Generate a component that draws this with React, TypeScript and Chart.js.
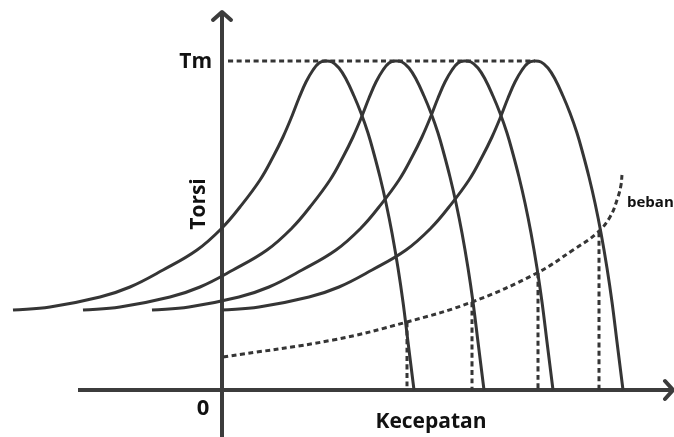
import { useEffect, useRef } from "react";
import { Chart, registerables } from "chart.js";

Chart.register(...registerables);

// ---- data (speed / torque in arbitrary drawing units, origin at 0,0) ----
const TM = 329;

const MOTOR_1_SPEED = [-209, -172, -122, -92, -59, -25, 0, 18, 38, 51, 61, 70, 77, 84, 91, 97, 103, 110, 117, 124, 132, 139, 146, 152, 158, 164, 170, 176, 181, 186, 189, 192];
const MOTOR_1_TORQUE = [80, 83, 93, 103, 120, 140, 162, 183, 210, 233, 253, 274, 292, 308, 320, 327, 329, 328, 322, 311, 294, 277, 257, 236, 213, 187, 157, 122, 88, 48, 24, 0];

const MOTOR_2_SPEED = [-139, -102, -52, -22, 11, 45, 70, 88, 108, 121, 131, 140, 147, 154, 161, 167, 173, 180, 187, 194, 202, 209, 216, 222, 228, 234, 240, 246, 251, 256, 259, 262];
const MOTOR_2_TORQUE = [80, 83, 93, 103, 120, 140, 162, 183, 210, 233, 253, 274, 292, 308, 320, 327, 329, 328, 322, 311, 294, 277, 257, 236, 213, 187, 157, 122, 88, 48, 24, 0];

const MOTOR_3_SPEED = [-70, -33, 17, 47, 80, 114, 139, 157, 177, 190, 200, 209, 216, 223, 230, 236, 242, 249, 256, 263, 271, 278, 285, 291, 297, 303, 309, 315, 320, 325, 328, 331];
const MOTOR_3_TORQUE = [80, 83, 93, 103, 120, 140, 162, 183, 210, 233, 253, 274, 292, 308, 320, 327, 329, 328, 322, 311, 294, 277, 257, 236, 213, 187, 157, 122, 88, 48, 24, 0];

const MOTOR_4_SPEED = [0, 37, 87, 117, 150, 184, 209, 227, 247, 260, 270, 279, 286, 293, 300, 306, 312, 319, 326, 333, 341, 348, 355, 361, 367, 373, 379, 385, 390, 395, 398, 401];
const MOTOR_4_TORQUE = [80, 83, 93, 103, 120, 140, 162, 183, 210, 233, 253, 274, 292, 308, 320, 327, 329, 328, 322, 311, 294, 277, 257, 236, 213, 187, 157, 122, 88, 48, 24, 0];

const LOAD_SPEED = [1, 111, 185, 250, 315, 351, 375, 388, 396, 399, 400];
const LOAD_TORQUE = [33, 50, 68, 88, 117, 140, 157, 173, 193, 205, 215];

const OPERATING_SPEED = [185, 250, 316, 377];
const OPERATING_TORQUE = [68, 88, 117, 158];

const TM_LINE_SPEED = [6, 313];

const X_AXIS_RANGE = [-144, 451];
const Y_AXIS_RANGE = [-47, 378];
const X_VIEW = [-222, 452];
const Y_VIEW = [-47, 390];

const LABEL_TM = "Tm";
const LABEL_ZERO = "0";
const LABEL_X = "Kecepatan";
const LABEL_Y = "Torsi";
const LABEL_LOAD = "beban";

const LINE_COLOR = "#353535";
const AXIS_COLOR = "#3c3c3c";
const TEXT_COLOR = "#111111";
const FONT = '"Open Sans", "DejaVu Sans", sans-serif';

const toPoints = (xs: number[], ys: number[]) => xs.map((x, i) => ({ x, y: ys[i] }));

const diagramPlugin = {
  id: "diagram",
  beforeDraw(chart: any) {
    const { ctx, width, height } = chart;
    ctx.save();
    ctx.fillStyle = "#ffffff";
    ctx.fillRect(0, 0, width, height);
    ctx.restore();
  },
  beforeDatasetsDraw(chart: any) {
    const { ctx, scales } = chart;
    const px = (v: number) => scales.x.getPixelForValue(v);
    const py = (v: number) => scales.y.getPixelForValue(v);
    ctx.save();
    ctx.strokeStyle = AXIS_COLOR;
    ctx.lineWidth = 4;
    ctx.lineCap = "butt";
    const y0 = py(0);
    const xEnd = px(X_AXIS_RANGE[1]);
    ctx.beginPath();
    ctx.moveTo(px(X_AXIS_RANGE[0]), y0);
    ctx.lineTo(xEnd - 1, y0);
    ctx.stroke();
    const x0 = px(0);
    const yEnd = py(Y_AXIS_RANGE[1]);
    ctx.beginPath();
    ctx.moveTo(x0, py(Y_AXIS_RANGE[0]));
    ctx.lineTo(x0, yEnd + 1);
    ctx.stroke();
    ctx.lineCap = "round";
    ctx.lineJoin = "round";
    ctx.beginPath();
    ctx.moveTo(xEnd - 8, y0 - 9);
    ctx.lineTo(xEnd, y0);
    ctx.lineTo(xEnd - 8, y0 + 9);
    ctx.stroke();
    ctx.beginPath();
    ctx.moveTo(x0 - 9, yEnd + 8);
    ctx.lineTo(x0, yEnd);
    ctx.lineTo(x0 + 9, yEnd + 8);
    ctx.stroke();
    ctx.restore();
  },
  afterDraw(chart: any) {
    const { ctx, scales } = chart;
    const px = (v: number) => scales.x.getPixelForValue(v);
    const py = (v: number) => scales.y.getPixelForValue(v);
    ctx.save();
    ctx.fillStyle = TEXT_COLOR;
    ctx.textBaseline = "alphabetic";
    ctx.font = `bold 21px ${FONT}`;
    ctx.textAlign = "right";
    ctx.fillText(LABEL_TM, px(0) - 10, py(TM) + 7);
    ctx.font = `bold 22px ${FONT}`;
    ctx.textAlign = "center";
    ctx.fillText(LABEL_ZERO, px(0) - 19, py(0) + 25);
    ctx.font = `bold 21px ${FONT}`;
    ctx.textAlign = "center";
    ctx.fillText(LABEL_X, px(209), py(0) + 38);
    ctx.font = `bold 15px ${FONT}`;
    ctx.textAlign = "left";
    ctx.fillText(LABEL_LOAD, px(405), py(183));
    ctx.font = `bold 21px ${FONT}`;
    ctx.translate(px(0) - 17, py(186));
    ctx.rotate(-Math.PI / 2);
    ctx.textAlign = "center";
    ctx.fillText(LABEL_Y, 0, 0);
    ctx.restore();
  },
};

export default function App() {
  const canvasRef = useRef<HTMLCanvasElement | null>(null);

  useEffect(() => {
    document.body.style.margin = "0";
    const canvas = canvasRef.current;
    if (!canvas) return;

    const solid = (xs: number[], ys: number[]) => ({
      data: toPoints(xs, ys),
      borderColor: LINE_COLOR,
      borderWidth: 3,
      pointRadius: 0,
      tension: 0.4,
      fill: false,
    });
    const dashed = (xs: number[], ys: number[]) => ({
      data: toPoints(xs, ys),
      borderColor: LINE_COLOR,
      borderWidth: 3,
      borderDash: [5, 3.5],
      pointRadius: 0,
      tension: 0.4,
      fill: false,
    });

    const datasets: any[] = [
      solid(MOTOR_1_SPEED, MOTOR_1_TORQUE),
      solid(MOTOR_2_SPEED, MOTOR_2_TORQUE),
      solid(MOTOR_3_SPEED, MOTOR_3_TORQUE),
      solid(MOTOR_4_SPEED, MOTOR_4_TORQUE),
      dashed(LOAD_SPEED, LOAD_TORQUE),
      dashed(TM_LINE_SPEED, [TM, TM]),
      ...OPERATING_SPEED.map((s, i) => dashed([s, s], [OPERATING_TORQUE[i], 0])),
    ];

    const chart = new Chart(canvas, {
      type: "scatter",
      data: { datasets: datasets.map((d) => ({ ...d, showLine: true })) },
      options: {
        animation: false,
        responsive: false,
        maintainAspectRatio: false,
        layout: { padding: 0 },
        plugins: { legend: { display: false }, tooltip: { enabled: false }, title: { display: false } },
        scales: {
          x: { type: "linear", min: X_VIEW[0], max: X_VIEW[1], display: false },
          y: { type: "linear", min: Y_VIEW[0], max: Y_VIEW[1], display: false },
        },
        events: [],
      },
      plugins: [diagramPlugin],
    });
    return () => chart.destroy();
  }, []);

  return <canvas ref={canvasRef} width={674} height={437} style={{ display: "block" }} />;
}
